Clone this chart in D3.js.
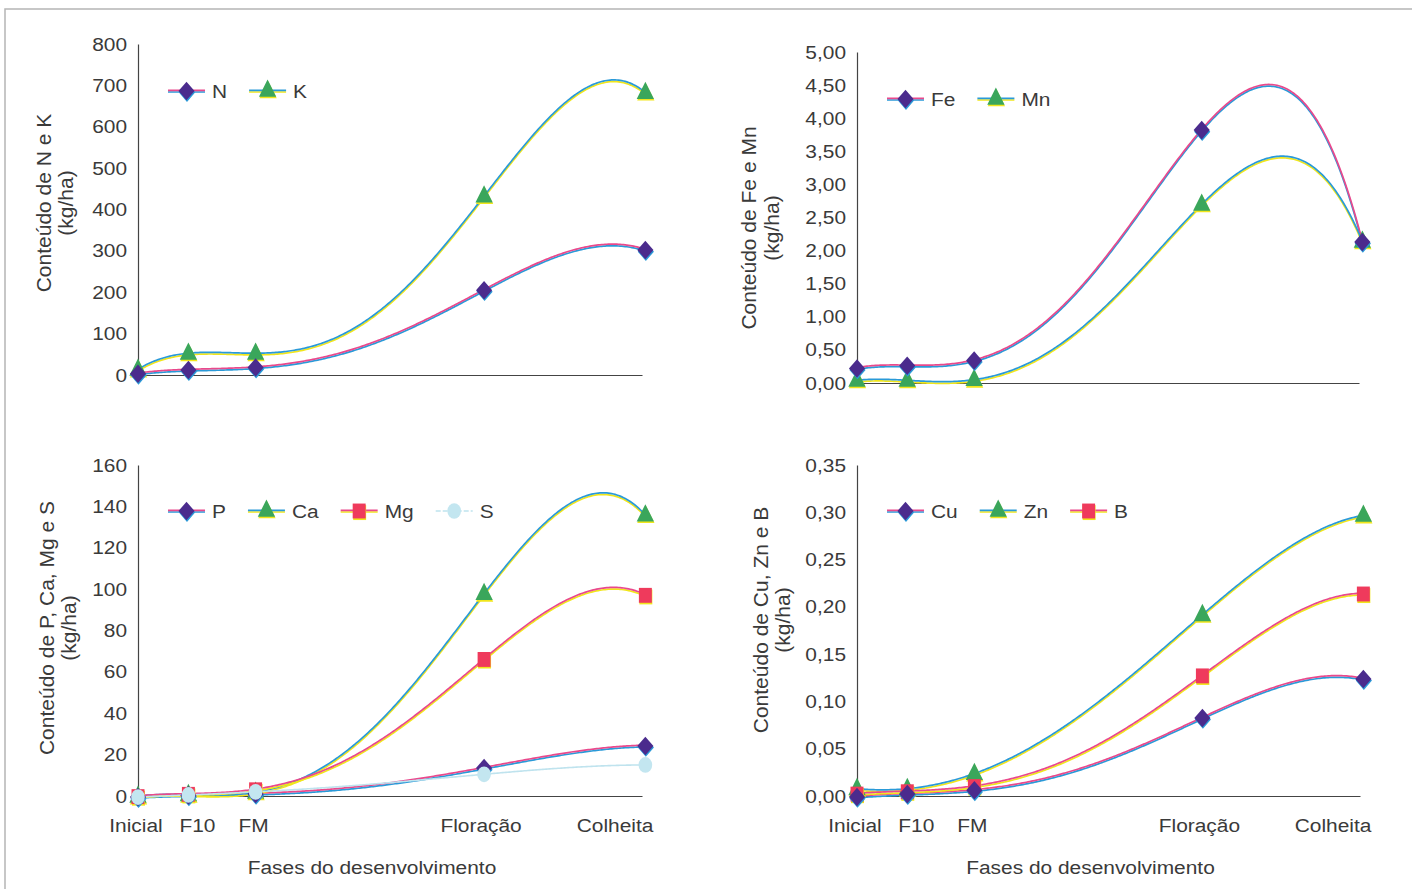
<!DOCTYPE html>
<html>
<head>
<meta charset="utf-8">
<script src="https://cdn.jsdelivr.net/npm/d3@7"></script>
<style>
  body { margin: 0; background: #fff; }
  text { font-family: "Liberation Sans", Arial, sans-serif; fill: #3a3a3a; }
</style>
</head>
<body>
<svg id="chart" width="1412" height="889"></svg>
<script>
// phases of development and their position on the time scale
const phases = ["Inicial", "F10", "FM", "Floração", "Colheita"];
const phaseDays = [0, 15, 35, 103, 151];

// macro nutrients (kg/ha)
const N = [3, 12, 18, 205, 302];
const K = [12, 51, 51, 431, 681];
const P = [-0.5, 0.3, 1.0, 13.5, 24.2];
const Ca = [-0.5, 0.3, 1.5, 97.5, 135.5];
const Mg = [-0.3, 0.8, 3.0, 66, 97];
const S = [-0.5, 0.5, 2.0, 10.5, 15];

// micro nutrients (kg/ha)
const Fe = [0.22, 0.26, 0.34, 3.82, 2.13];
const Mn = [0.03, 0.03, 0.04, 2.69, 2.13];
const Cu = [-0.001, 0.002, 0.006, 0.0825, 0.1237];
const Zn = [0.007, 0.007, 0.023, 0.191, 0.296];
const B = [0.002, 0.0045, 0.010, 0.127, 0.2136];

// look of each series (printed with a slight colour shift)
const looks = {
  purple: { top: "#e9498c", bottom: "#2a9ad8", fill: "#4b2b8d", shadow: "#2a9ad8", shape: "diamond" },
  green:  { top: "#2a9ad8", bottom: "#f1e61c", fill: "#3aa65b", shadow: "#f1e61c", shape: "triangle" },
  red:    { top: "#e9498c", bottom: "#f1e61c", fill: "#ef3a5c", shadow: "#f1e61c", shape: "square" },
  cyan:   { top: "#bfe3ee", bottom: null, fill: "#c3e6f0", shadow: null, shape: "circle" }
};

const panels = [
  { series: [["N", N, "purple"], ["K", K, "green"]], yMax: 800, yStep: 100, dec: 0,
    title: "Conteúdo de N e K", left: 138, top: 44, width: 504, height: 331,
    titleX: [-87, -65], titleY: 203, xLabels: false },
  { series: [["Fe", Fe, "purple"], ["Mn", Mn, "green"]], yMax: 5, yStep: 0.5, dec: 2,
    title: "Conteúdo de Fe e Mn", left: 857, top: 52, width: 502, height: 331,
    titleX: [-101, -78], titleY: 228, xLabels: false },
  { series: [["P", P, "purple"], ["Ca", Ca, "green"], ["Mg", Mg, "red"], ["S", S, "cyan"]], yMax: 160, yStep: 20, dec: 0,
    title: "Conteúdo de P, Ca, Mg e S", left: 138, top: 465, width: 504, height: 331,
    titleX: [-84, -62], titleY: 628, xLabels: true },
  { series: [["Cu", Cu, "purple"], ["Zn", Zn, "green"], ["B", B, "red"]], yMax: 0.35, yStep: 0.05, dec: 2,
    title: "Conteúdo de Cu, Zn e B", left: 857, top: 465, width: 503, height: 331,
    titleX: [-89, -67], titleY: 620, xLabels: true }
];

const svg = d3.select("#chart");
const ptBr = d3.formatLocale({ decimal: ",", thousands: ".", grouping: [3], currency: ["R$", ""] });
const stretch = 1.1; // the scanned text is a bit wider than the font
const labelShift = [-2, 9, -2, -3, 8]; // phase labels are not exactly under the points

// figure frame
svg.append("path")
  .attr("d", "M5,889V9H1412")
  .attr("fill", "none")
  .attr("stroke", "#b5b5b5")
  .attr("stroke-width", 1.5);

// polynomial trend line through all the points (order 4)
function poly(xs, ys) {
  return x => d3.sum(ys, (y, i) => {
    let l = 1;
    xs.forEach((xj, j) => { if (j !== i) l *= (x - xj) / (xs[i] - xj); });
    return y * l;
  });
}

function marker(g, shape, look, size) {
  const sym = { diamond: d3.symbolSquare, triangle: d3.symbolTriangle, square: d3.symbolSquare, circle: d3.symbolCircle }[shape];
  const sz = { diamond: size * 0.62, triangle: size * 0.62, square: size * 0.8, circle: size * 0.7 }[shape];
  const rot = shape === "diamond" ? " rotate(45)" : "";
  const path = d3.symbol().type(sym).size(sz)();
  if (look.shadow) {
    g.append("path").attr("d", path).attr("fill", look.shadow)
      .attr("transform", "translate(0.5,1.6) scale(1,1.15)" + rot);
  }
  g.append("path").attr("d", path).attr("fill", look.fill)
    .attr("transform", "scale(1,1.15)" + rot);
}

const drawOrder = { triangle: 0, square: 1, diamond: 2, circle: 3 };

panels.forEach(p => {
  const x = d3.scaleLinear().domain([0, 150]).range([p.left, p.left + p.width]);
  const y = d3.scaleLinear().domain([0, p.yMax]).range([p.top + p.height, p.top]);
  const fmt = ptBr.format("." + p.dec + "f");

  // y axis
  const yAxis = svg.append("g")
    .attr("transform", `translate(${p.left},0)`)
    .call(d3.axisLeft(y)
      .tickValues(d3.range(0, p.yMax + p.yStep / 2, p.yStep))
      .tickFormat(fmt)
      .tickSize(0)
      .tickPadding(10));
  yAxis.select(".domain").attr("stroke", "#444").attr("stroke-width", 1.2);
  yAxis.selectAll("text")
    .attr("font-size", 19)
    .attr("font-family", "Liberation Sans, Arial, sans-serif")
    .attr("fill", "#3a3a3a")
    .attr("transform", `scale(${stretch},1)`);

  // x axis (line only)
  const xAxis = svg.append("g")
    .attr("transform", `translate(0,${y(0)})`)
    .call(d3.axisBottom(x).tickValues([]).tickSizeOuter(0));
  xAxis.select(".domain").attr("stroke", "#444").attr("stroke-width", 1.2);

  if (p.xLabels) {
    svg.append("g").selectAll("text")
      .data(phases)
      .join("text")
      .attr("transform", (d, i) => `translate(${x(phaseDays[i]) + labelShift[i]},${y(0) + 36}) scale(${stretch},1)`)
      .attr("text-anchor", (d, i) => i === phases.length - 1 ? "end" : "middle")
      .attr("font-size", 19)
      .text(d => d);
    svg.append("text")
      .attr("transform", `translate(${p.left + p.width / 2 - 18},${y(0) + 78}) scale(${stretch},1)`)
      .attr("text-anchor", "middle")
      .attr("font-size", 19)
      .text("Fases do desenvolvimento");
  }

  // y axis title
  [p.title, "(kg/ha)"].forEach((t, i) => {
    svg.append("text")
      .attr("transform", `translate(${p.left + p.titleX[i]},${p.titleY}) rotate(-90)`)
      .attr("text-anchor", "middle")
      .attr("font-size", 21)
      .text(t);
  });

  // curves
  const xs = d3.range(phaseDays[0], phaseDays[phaseDays.length - 1] + 0.01, 0.5);
  const line = d3.line().x(d => x(d[0])).y(d => y(d[1]));
  const curves = svg.append("g");
  p.series.forEach(([name, values, lk]) => {
    const look = looks[lk];
    const f = poly(phaseDays, values);
    const pts = xs.map(d => [d, f(d)]);
    if (look.bottom) {
      curves.append("path").attr("d", line(pts)).attr("fill", "none")
        .attr("stroke", look.bottom).attr("stroke-width", 1.7)
        .attr("transform", "translate(0,1)");
      curves.append("path").attr("d", line(pts)).attr("fill", "none")
        .attr("stroke", look.top).attr("stroke-width", 1.7)
        .attr("transform", "translate(0,-0.7)");
    } else {
      curves.append("path").attr("d", line(pts)).attr("fill", "none")
        .attr("stroke", look.top).attr("stroke-width", 1.6);
    }
  });

  // markers
  const ordered = p.series.slice().sort((a, b) => drawOrder[looks[a[2]].shape] - drawOrder[looks[b[2]].shape]);
  ordered.forEach(([name, values, lk]) => {
    const look = looks[lk];
    values.forEach((v, i) => {
      const g = svg.append("g").attr("transform", `translate(${x(phaseDays[i])},${y(v)})`);
      marker(g, look.shape, look, 210);
    });
  });

  // legend
  const legendY = p.top + (p.xLabels ? 46 : 47);
  let lx = p.left + 30;
  p.series.forEach(([name, values, lk]) => {
    const look = looks[lk];
    const g = svg.append("g").attr("transform", `translate(${lx},${legendY})`);
    if (look.bottom) {
      g.append("line").attr("x1", 0).attr("x2", 37).attr("y1", 1).attr("y2", 1)
        .attr("stroke", look.bottom).attr("stroke-width", 1.7);
      g.append("line").attr("x1", 0).attr("x2", 37).attr("y1", -0.7).attr("y2", -0.7)
        .attr("stroke", look.top).attr("stroke-width", 1.7);
    } else {
      g.append("line").attr("x1", 0).attr("x2", 37).attr("stroke", look.top)
        .attr("stroke-width", 1.6).attr("stroke-dasharray", "5,2");
    }
    marker(g.append("g").attr("transform", "translate(18.5,0)"), look.shape, look, 210);
    const label = g.append("text")
      .attr("transform", `translate(44,7) scale(${stretch},1)`)
      .attr("font-size", 19)
      .text(name);
    lx += 44 + label.node().getComputedTextLength() * stretch + 22;
  });
});
</script>
</body>
</html>
